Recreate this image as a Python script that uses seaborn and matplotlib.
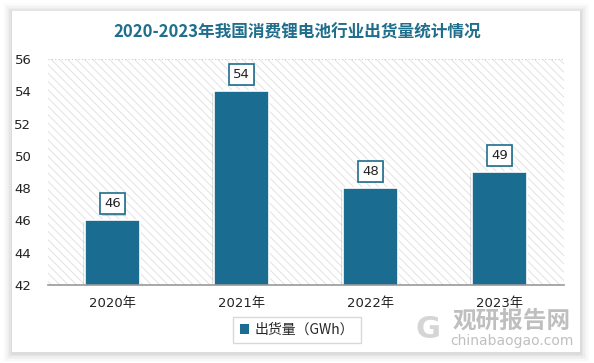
import matplotlib
matplotlib.use("Agg")
import matplotlib.pyplot as plt
import matplotlib.patheffects as pe
from matplotlib.patches import FancyBboxPatch, Patch
import seaborn as sns
import pandas as pd

years = ["2020年", "2021年", "2022年", "2023年"]
shipments = [46, 54, 48, 49]
series_name = "出货量（GWh）"
title = "2020-2023年我国消费锂电池行业出货量统计情况"

sns.set_style("white")
plt.rcParams['font.family'] = ['DejaVu Sans', 'Noto Sans CJK SC']
plt.rcParams['hatch.color'] = '#dedede'
plt.rcParams['hatch.linewidth'] = 0.6

BAR = '#1b6c91'
TEAL = '#1f6e8c'

fig = plt.figure(figsize=(5.94, 3.63), dpi=100)
fig.patch.set_facecolor('white')

# soft card shadow
for i, a in enumerate([0.035, 0.03, 0.025, 0.02, 0.015, 0.01]):
    d = (i + 1) * 1.5
    sh = FancyBboxPatch(((12-d)/594, (11-d-1)/363), (568+2*d)/594, (341+2*d)/363,
                        boxstyle="square,pad=0", transform=fig.transFigure,
                        facecolor='black', alpha=a, edgecolor='none', zorder=-1)
    fig.patches.append(sh)
card = FancyBboxPatch((12/594, 11/363), (580-12)/594, (352-11)/363,
                      boxstyle="square,pad=0", transform=fig.transFigure,
                      facecolor='white', edgecolor='none', zorder=0)
fig.patches.append(card)

ax = fig.add_axes([48/594, (363-285)/363, (564-48)/594, (285-59)/363])
ax.set_zorder(2)
ax.patch.set_facecolor('white')
ax.patch.set_hatch('\\\\\\\\')
ax.patch.set_edgecolor('#dedede')
ax.patch.set_linewidth(0)

df = pd.DataFrame({"year": years, "value": shipments})
sns.barplot(data=df, x="year", y="value", color=BAR, width=0.43, ax=ax,
            edgecolor='white', linewidth=1.2, saturation=1, zorder=3)
for p in ax.patches:
    p.set_path_effects([pe.SimplePatchShadow(offset=(-1.5, -1), shadow_rgbFace='#aaaaaa', alpha=0.35), pe.Normal()])

ax.set_ylim(42, 56)
ax.set_yticks(range(42, 57, 2))
ax.set_xlabel("")
ax.set_ylabel("")
ax.tick_params(axis='y', length=0, pad=12, labelsize=9.5, colors='#222222')
ax.tick_params(axis='x', length=0, pad=9, labelsize=9.5, colors='#222222')
for s in ['top', 'right', 'left']:
    ax.spines[s].set_visible(False)
ax.spines['bottom'].set_color('#999999')
ax.spines['bottom'].set_linewidth(1.2)
ax.spines['bottom'].set_zorder(4)
ax.axhline(56, color='#cccccc', lw=0.8, ls=(0, (1, 2)), zorder=1)

for i, v in enumerate(shipments):
    ax.annotate(str(v), (i, v), xytext=(0, 12), textcoords='offset points',
                ha='center', va='center', fontsize=9.5, color='#222222', zorder=5,
                bbox=dict(boxstyle='square,pad=0.3', fc='white', ec=TEAL, lw=1.2,
                          path_effects=[pe.SimplePatchShadow(offset=(1, -1), alpha=0.25), pe.Normal()]))

fig.text(297/594, (363-32)/363, title, ha='center', va='center', fontsize=12,
         fontweight='bold', color=TEAL, family=['Noto Sans CJK SC', 'DejaVu Sans'])

leg = fig.legend(handles=[Patch(facecolor=BAR, edgecolor='none', label=series_name)],
                 loc='center', bbox_to_anchor=(297/594, (363-330)/363),
                 frameon=True, fancybox=False, handlelength=0.7, handleheight=0.7,
                 handletextpad=0.4, borderpad=0.45, borderaxespad=0,
                 prop={'family': ['Noto Sans CJK SC', 'DejaVu Sans'], 'size': 10})
leg.get_frame().set_edgecolor('#d0d0d0')
leg.get_frame().set_linewidth(1)

# watermark
fig.text(512/594, (363-321)/363, "观研报告网", ha='center', va='center', fontsize=17,
         fontweight='bold', color='#b0b0b0', alpha=0.8, family=['Noto Sans CJK SC'])
fig.text(512/594, (363-341)/363, "chinabaogao.com", ha='center', va='center', fontsize=10,
         color='#b0b0b0', alpha=0.8, family=['DejaVu Sans'])
fig.text(428/594, (363-329)/363, "G", ha='center', va='center', fontsize=22, fontweight='bold',
         color='#c4c4c4', alpha=0.7, family=['DejaVu Sans'])

fig.savefig("out.png", dpi=100)
